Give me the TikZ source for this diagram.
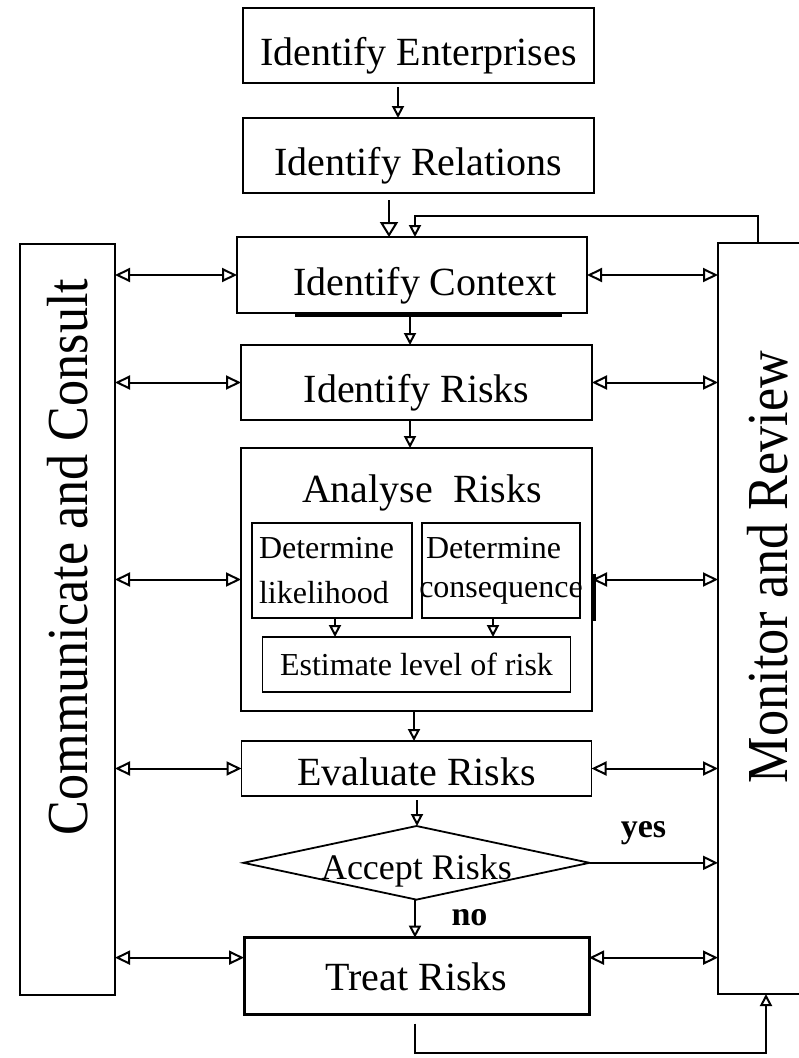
\documentclass[tikz,border=0pt]{standalone}
\usepackage{fontspec}
\setmainfont{Liberation Serif}
\newfontfamily\tallserif[FakeStretch=0.9]{Liberation Serif}
\usetikzlibrary{arrows.meta,positioning,shapes.geometric,calc}
\tikzset{
  stage/.style={draw, line width=1.8pt, align=center, inner sep=0pt, outer sep=0pt,
    minimum width=351pt, minimum height=75pt,
    font=\fontsize{40}{48}\selectfont, text height=40pt, text depth=0pt},
  substage/.style={draw, line width=1.6pt, inner sep=4pt, outer sep=0pt,
    font=\fontsize{32}{45}\selectfont},
  sidebar/.style={draw, line width=1.4pt, outer sep=0pt, minimum height=751pt},
  sidetext/.style={rotate=90, anchor=base, font=\tallserif\fontsize{58}{66}\selectfont},
  decision/.style={diamond, draw, line width=1.8pt, aspect=4.7, inner sep=0pt, outer sep=0pt,
    minimum width=345pt, minimum height=73pt,
    font=\fontsize{36}{42}\selectfont, text height=33pt, text depth=0pt},
  flow/.style={-{Triangle[open, length=12pt, width=12pt]}, line width=2pt},
  mainflow/.style={-{Triangle[open, length=15pt, width=18pt]}, line width=2pt},
  oneway/.style={-{Triangle[open, length=15pt, width=14pt]}, line width=2pt},
  twoway/.style={{Triangle[open, length=15pt, width=14pt]}-{Triangle[open, length=15pt, width=14pt]}, line width=2pt},
  tag/.style={anchor=base, font=\fontsize{34}{40}\selectfont\bfseries}
}

\begin{document}
\begin{tikzpicture}[x=1pt, y=-1pt]
  \useasboundingbox (0,0) rectangle (799,1058);
  % side bars
  \node[sidebar, minimum width=95pt] (cc) at (67.5,619.5) {};
  \node[sidebar, minimum width=122pt] (mon) at (779,618.5) {};
  \node[sidetext] (cctext) at (87,557) {Communicate and Consult};
  \node[sidetext] (montext) at (787,567) {Monitor and Review};
  % main column
  \node[stage] (ent) at (418.5,45.5) {Identify Enterprises};
  \node[stage, below=35pt of ent] (rel) {Identify Relations};
  \node[stage, minimum width=350pt, minimum height=76pt, below=44pt of rel, xshift=-6.5pt] (ctx) {\hspace*{26pt}Identify Context};
  \node[stage, below=32pt of ctx, xshift=4.5pt] (risk) {Identify Risks};
  \node[stage, minimum height=263pt, below=28pt of risk] (ana) {};
  \node[anchor=base, font=\fontsize{40}{48}\selectfont] (anatitle) at ($(ana.north)+(5.5,54)$) {Analyse\enspace Risks};
  \node[substage, minimum width=160pt, minimum height=95pt, text width=146pt, align=left] (lik) at ($(ana.north)+(-84.5,122.5)$) {Determine\\likelihood};
  \node[substage, minimum height=95pt, text width=150pt, align=left] (con) at ($(ana.north)+(84.5,122.5)$) {Determine\\[-6pt]\makebox[150pt][c]{consequence}};
  \node[substage, minimum width=308pt, minimum height=55pt, anchor=north] (est) at ($(lik.south)!0.5!(con.south)+(0,19)$) {Estimate level of risk};
  \node[stage, minimum width=350pt, minimum height=55pt, text height=33pt, below=30pt of ana] (eva) {Evaluate Risks};
  \node[decision, below=30pt of eva] (acc) {Accept Risks};
  \node[stage, line width=3pt, minimum width=345pt, minimum height=77pt, text height=29pt, below=38pt of acc] (trt) {Treat Risks};
  \node[tag] (yes) at ($(acc.east)+(54,-25)$) {yes};
  \node[tag] (no) at ($(acc.south)+(53,26)$) {no};
  % heavy marks
  \draw[line width=4pt] ($(ctx.south west)+(58,2)$) -- ($(ctx.south east)+(-25,2)$);
  \draw[line width=3pt] ($(ana.east)+(2,-6)$) -- ($(ana.east)+(2,41)$);
  % flow down the column
  \draw[flow, shorten <=4pt] ($(ent.south)+(-20.5,0)$) -- ($(rel.north)+(-20.5,0)$);
  \draw[mainflow] ($(rel.south)+(-29.5,7)$) -- ($(ctx.north)+(-23,0)$);
  \draw[flow] ($(mon.north)+(-21,0)$) |- ($(ctx.north)+(3,-21)$) -- ($(ctx.north)+(3,0)$);
  \draw[flow] ($(ctx.south)+(-2,4)$) -- ($(risk.north)+(-6.5,0)$);
  \draw[flow] ($(risk.south)+(-6.5,0)$) -- ($(ana.north)+(-6.5,0)$);
  \coordinate (likout) at ($(lik.south)+(3,0)$);
  \coordinate (conout) at ($(con.south)+(-8,0)$);
  \draw[flow] (likout) -- (likout |- est.north);
  \draw[flow] (conout) -- (conout |- est.north);
  \draw[flow] ($(ana.south)+(-2.5,0)$) -- ($(eva.north)+(-2.5,0)$);
  \draw[flow, shorten <=4pt] ($(eva.south)+(0.5,0)$) -- ($(acc.north)+(0.5,0)$);
  \draw[flow] ($(acc.south)+(-1.5,0)$) -- ($(trt.north)+(-1.5,0)$);
  \draw[oneway] (acc.east) -- (acc.east -| mon.west);
  \draw[flow] ($(trt.south)+(-1.5,9)$) -- ++(0,29) -| ($(mon.south)+(-13,0)$);
  % links to the side bars
  \draw[twoway] (cc.east |- ctx.west) -- (ctx.west);
  \draw[twoway] (ctx.east) -- (ctx.east -| mon.west);
  \draw[twoway] (cc.east |- risk.west) -- (risk.west);
  \draw[twoway] (risk.east) -- (risk.east -| mon.west);
  \draw[twoway] (cc.east |- ana.west) -- (ana.west);
  \draw[twoway] (ana.east) -- (ana.east -| mon.west);
  \draw[twoway] (cc.east |- eva.west) -- (eva.west);
  \draw[twoway] (eva.east) -- (eva.east -| mon.west);
  \coordinate (trtin) at ($(trt.west)+(0,-18.5)$);
  \coordinate (trtout) at ($(trt.east)+(0,-18.5)$);
  \draw[twoway] (cc.east |- trtin) -- (trtin);
  \draw[twoway] (trtout) -- (trtout -| mon.west);
\end{tikzpicture}
\end{document}
